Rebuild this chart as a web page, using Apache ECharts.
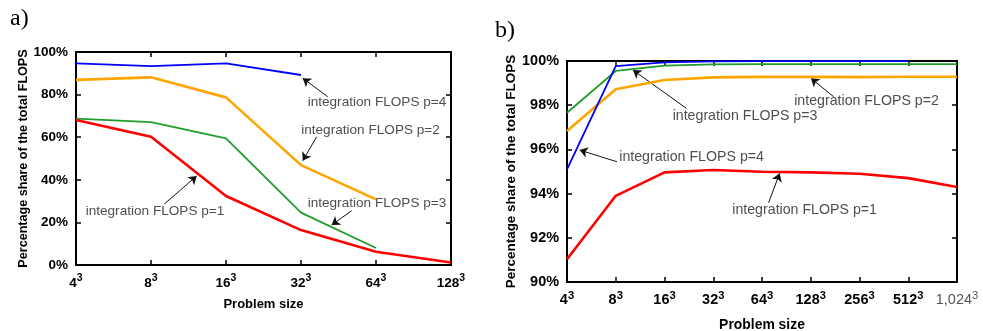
<!DOCTYPE html>
<html>
<head>
<meta charset="utf-8">
<script src="https://cdn.jsdelivr.net/npm/echarts@6/dist/echarts.min.js"></script>
<style>
  html, body { margin: 0; padding: 0; background: #fff; }
  #chart { width: 983px; height: 331px; }
</style>
</head>
<body>
<div id="chart"></div>
<script>
// problem sizes (edge length, cubed)
const sizesA = [4, 8, 16, 32, 64, 128]
const sizesB = [4, 8, 16, 32, 64, 128, 256, 512, 1024]

// a) share of integration FLOPS, %
const aP1 = [68.1, 60.2, 32.4, 16.4, 6.2, 1.2]
const aP2 = [86.9, 88.1, 78.7, 46.9, 30.8]
const aP3 = [68.7, 67.1, 59.5, 24.6, 8.0]
const aP4 = [94.7, 93.4, 94.7, 89.2]

// b) share of integration FLOPS, %
const bP1 = [91.03, 93.9, 94.96, 95.07, 94.99, 94.96, 94.9, 94.7, 94.3]
const bP2 = [96.83, 98.72, 99.14, 99.26, 99.28, 99.28, 99.27, 99.29, 99.29]
const bP3 = [97.66, 99.55, 99.79, 99.85, 99.86, 99.86, 99.86, 99.86, 99.86]
const bP4 = [95.1, 99.77, 99.94, 99.98, 99.99, 99.99, 99.99, 99.99]

// annotations: [x index, value, text]  and arrows [[x0, y0], [x1, y1]]
const notesA = [
  [4.013, 76.5, 'integration FLOPS p=4'],
  [3.927, 63.4, 'integration FLOPS p=2'],
  [4.013, 29.2, 'integration FLOPS p=3'],
  [1.053, 25.4, 'integration FLOPS p=1']
]
const arrowsA = [
  [[3.356, 79.0], [3.023, 87.7]],
  [[3.209, 60.2], [3.023, 49.0]],
  [[3.676, 25.5], [3.409, 18.8]],
  [[1.177, 28.6], [1.609, 41.8]]
]
const notesB = [
  [6.144, 98.19, 'integration FLOPS p=2'],
  [3.651, 97.51, 'integration FLOPS p=3'],
  [2.556, 95.67, 'integration FLOPS p=4'],
  [4.874, 93.26, 'integration FLOPS p=1']
]
const arrowsB = [
  [[5.469, 98.385], [5.005, 99.217]],
  [[2.447, 97.86], [1.354, 99.59]],
  [[1.026, 95.44], [0.259, 95.97]],
  [[4.136, 93.59], [4.362, 94.92]]
]

const RED = '#ff0000'
const ORANGE = '#ffa500'
const GREEN = '#1f9e2c'
const BLUE = '#0000ff'

const chart = echarts.init(document.getElementById('chart'))

// panel b is printed a little larger than panel a
function supRich (k) {
  return {
    b: { fontFamily: 'Liberation Sans', fontWeight: 'bold', fontSize: 13.5 * k, color: '#000', verticalAlign: 'bottom' },
    s: { fontFamily: 'Liberation Sans', fontWeight: 'bold', fontSize: 10.5 * k, color: '#000', verticalAlign: 'bottom', padding: [0, 0, 6 * k, 0] },
    g: { fontFamily: 'Liberation Sans', fontSize: 13.5 * k, color: '#555', verticalAlign: 'bottom' },
    gs: { fontFamily: 'Liberation Sans', fontSize: 10.5 * k, color: '#555', verticalAlign: 'bottom', padding: [0, 0, 6 * k, 0] }
  }
}

const frame = { show: true, onZero: false, lineStyle: { color: '#000', width: 2 } }
const ticks = { inside: true, length: 5, lineStyle: { color: '#000', width: 1.5 } }

function xAxes (grid, sizes, gap, k) {
  return [{
    type: 'value', gridIndex: grid, min: 0, max: sizes.length - 1, interval: 1,
    position: 'bottom',
    axisLine: frame,
    axisTick: ticks,
    splitLine: { show: false },
    axisLabel: {
      margin: 8,
      formatter: function (v) {
        const n = sizes[v]
        if (n >= 1000) return '{g|' + n.toLocaleString('en-US') + '}{gs|3}'
        return '{b|' + n + '}{s|3}'
      },
      rich: supRich(k)
    },
    name: 'Problem size', nameLocation: 'middle', nameGap: gap,
    nameTextStyle: { fontFamily: 'Liberation Sans', fontWeight: 'bold', fontSize: 13 * k, color: '#000' }
  }, {
    type: 'value', gridIndex: grid, min: 0, max: sizes.length - 1, interval: 1,
    position: 'top',
    axisLine: frame,
    axisTick: ticks,
    splitLine: { show: false },
    axisLabel: { show: false }
  }]
}

function yAxes (grid, min, max, step, gap, k) {
  return [{
    type: 'value', gridIndex: grid, min: min, max: max, interval: step,
    position: 'left',
    axisLine: frame,
    axisTick: ticks,
    splitLine: { show: false },
    axisLabel: {
      margin: 8, color: '#000', fontFamily: 'Liberation Sans', fontWeight: 'bold', fontSize: 13.5 * k,
      formatter: '{value}%'
    },
    name: 'Percentage share of the total FLOPS', nameLocation: 'middle', nameGap: gap,
    nameTextStyle: { fontFamily: 'Liberation Sans', fontWeight: 'bold', fontSize: 12.6 * k, color: '#000' }
  }, {
    type: 'value', gridIndex: grid, min: min, max: max, interval: step,
    position: 'right',
    axisLine: frame,
    axisTick: ticks,
    splitLine: { show: false },
    axisLabel: { show: false }
  }]
}

function curve (grid, values, color, width) {
  return {
    type: 'line', xAxisIndex: grid * 2, yAxisIndex: grid * 2,
    data: values.map((v, i) => [i, v]),
    symbol: 'none', silent: true, animation: false,
    lineStyle: { color: color, width: width }
  }
}

function notes (grid, items, size) {
  return {
    type: 'scatter', xAxisIndex: grid * 2, yAxisIndex: grid * 2,
    data: items, symbolSize: 1, itemStyle: { color: 'transparent' },
    silent: true, animation: false,
    label: {
      show: true, position: 'inside', formatter: p => p.data[2],
      fontFamily: 'Liberation Sans', fontSize: size, color: '#222'
    }
  }
}

function arrows (grid, items) {
  return {
    type: 'lines', coordinateSystem: 'cartesian2d', xAxisIndex: grid * 2, yAxisIndex: grid * 2,
    data: items.map(c => ({ coords: c })),
    symbol: ['none', 'arrow'], symbolSize: 8,
    silent: true, animation: false,
    lineStyle: { color: '#111', width: 1, opacity: 1 }
  }
}

chart.setOption({
  animation: false,
  title: [
    { text: 'a)', left: 5, top: 2, textStyle: { fontFamily: 'Liberation Serif', fontWeight: 'normal', fontSize: 24, color: '#000' } },
    { text: 'b)', left: 490, top: 14, textStyle: { fontFamily: 'Liberation Serif', fontWeight: 'normal', fontSize: 24, color: '#000' } }
  ],
  grid: [
    { left: 76, top: 52, width: 375, height: 213, outerBoundsMode: 'none' },
    { left: 567, top: 61, width: 390, height: 221, outerBoundsMode: 'none' }
  ],
  xAxis: [...xAxes(0, sizesA, 33, 1), ...xAxes(1, sizesB, 36, 1.07)],
  yAxis: [...yAxes(0, 0, 100, 20, 46, 1), ...yAxes(1, 90, 100, 2, 48, 1.07)],
  series: [
    curve(0, aP4, BLUE, 1.8),
    curve(0, aP2, ORANGE, 2.6),
    curve(0, aP3, GREEN, 1.8),
    curve(0, aP1, RED, 2.6),
    notes(0, notesA, 13.6),
    arrows(0, arrowsA),
    curve(1, bP1, RED, 2.6),
    curve(1, bP2, ORANGE, 2.6),
    curve(1, bP3, GREEN, 1.8),
    curve(1, bP4, BLUE, 1.8),
    notes(1, notesB, 14.2),
    arrows(1, arrowsB)
  ]
})
</script>
</body>
</html>
